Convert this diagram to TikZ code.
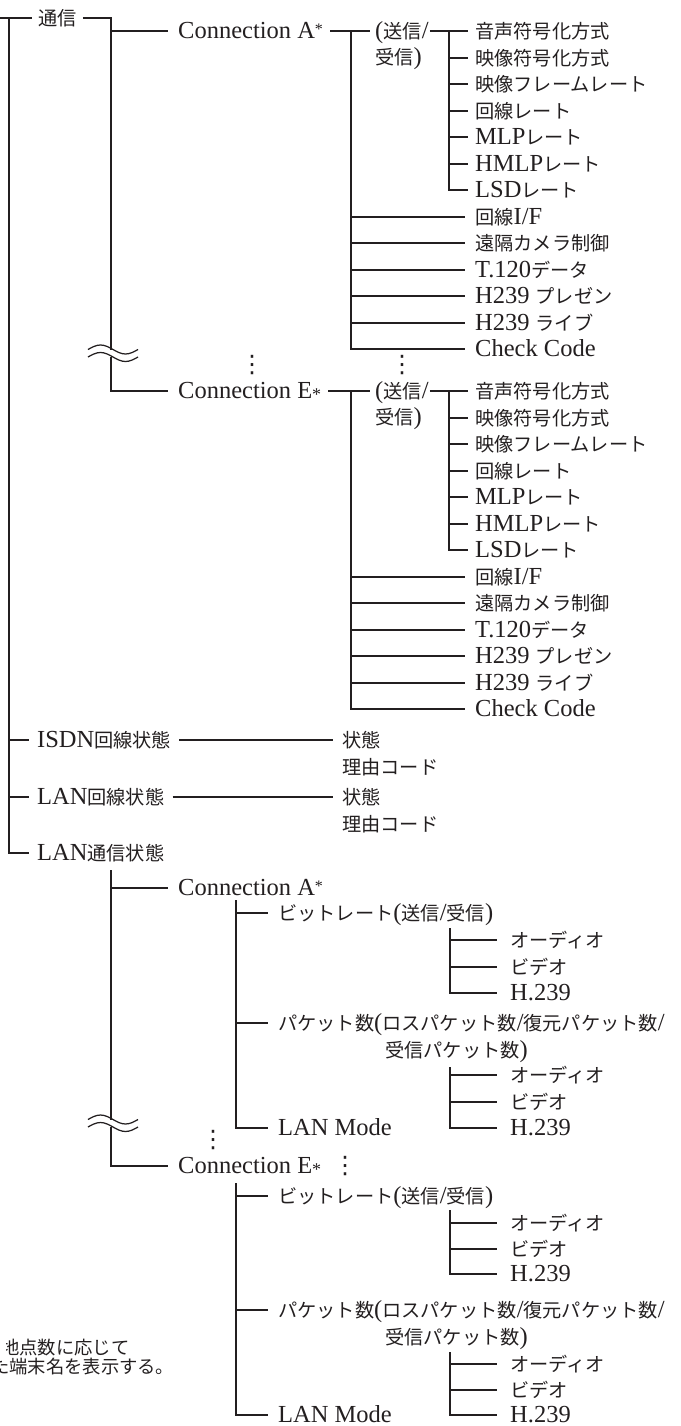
\documentclass[tikz,border=0pt]{standalone}
\usepackage{fontspec}
\setmainfont{Liberation Serif}
\newfontfamily\jpfont{Noto Sans CJK JP}
\newfontfamily\djv{DejaVu Sans}
\newcommand\J[1]{{\jpfont\fontsize{19.2}{22}\selectfont #1}}
\newcommand\vdts{{\djv\fontsize{24}{24}\selectfont ⋮}}
\definecolor{ink}{HTML}{231F20}
\newcommand\astA{\raisebox{4pt}{\fontsize{16}{16}\selectfont *}}
\newcommand\astE{\raisebox{-2pt}{\fontsize{18}{18}\selectfont *}}

\newcommand\commblock[3]{%
\begin{scope}[yshift=-#1pt]
\node[lbl] (#2c) at (178,31) {#3};
\node[lbl] (#2s) at (375,31) {(\J{送信}/};
\node[lbl] (#2s2) at (375,57) {\J{受信})};
\foreach \t [count=\k from 0] in {\J{音声符号化方式},\J{映像符号化方式},\J{映像フレームレート},\J{回線レート},MLP\J{レート},HMLP\J{レート},LSD\J{レート},\J{回線}I/F,\J{遠隔カメラ制御},T.120\J{データ},H239 \J{プレゼン},H239 \J{ライブ},Check Code}{
  \node[lbl] (#2i\k) at (475,{round(31+26.5*\k)}) {\t};
}
\coordinate (#2v) at (351,31);
\coordinate (#2u) at (449,31);
\end{scope}
\draw[ln] ([xshift=7pt]#2c.east) -- ([xshift=-5pt]#2s.west);
\draw[ln] (#2v) |- ([xshift=-10pt]#2i12.west);
\foreach \k in {7,...,11} \draw[ln] (#2i\k.west -| #2v) -- ([xshift=-10pt]#2i\k.west);
\draw[ln] ([xshift=1pt]#2s.east) -- ([xshift=-7pt]#2i0.west);
\draw[ln] (#2u) |- ([xshift=-7pt]#2i6.west);
\foreach \k in {1,...,5} \draw[ln] (#2i\k.west -| #2u) -- ([xshift=-7pt]#2i\k.west);
}

\newcommand\subgrp[5]{%
\coordinate (#1t) at (450,#2);
\node[lbl] (#1a) at (510,#3) {\J{オーディオ}};
\node[lbl] (#1b) at (510,#4) {\J{ビデオ}};
\node[lbl] (#1c) at (510,#5) {H.239};
\draw[ln] (#1t) |- ([xshift=-13pt]#1c.west);
\draw[ln] (#1a.west -| #1t) -- ([xshift=-13pt]#1a.west);
\draw[ln] (#1b.west -| #1t) -- ([xshift=-13pt]#1b.west);
}

\begin{document}
\begin{tikzpicture}[x=1pt,y=-1pt,
  lbl/.style={anchor=west,inner sep=0pt,text height=16pt,text depth=1pt,font=\fontsize{24.5}{27}\selectfont,text=ink},
  fnote/.style={anchor=west,inner sep=0pt,text height=14pt,text depth=1pt,font=\jpfont\fontsize{18.3}{19}\selectfont,text=ink},
  ln/.style={draw=ink,line width=1.25pt},
  dts/.style={inner sep=0pt,text=ink}]
\useasboundingbox (0,0) rectangle (680,1426);
\clip (0,0) rectangle (680,1426);

% top level
\node[lbl] (tsu) at (38,18) {\J{通信}};
\coordinate (in0) at (0,18);
\coordinate (T) at (9,18);
\node[lbl] (isdn) at (37,740) {ISDN\J{回線状態}};
\node[lbl] (isdnS) at (342,740) {\J{状態}};
\node[lbl] (isdnR) at (342,767) {\J{理由コード}};
\node[lbl] (lanl) at (37,797) {LAN\J{回線状態}};
\node[lbl] (lanlS) at (342,797) {\J{状態}};
\node[lbl] (lanlR) at (342,824) {\J{理由コード}};
\node[lbl] (lanc) at (37,853) {LAN\J{通信状態}};

\draw[ln] (in0) -- ([xshift=-6pt]tsu.west);
\draw[ln] (T) |- ([xshift=-8pt]lanc.west);
\draw[ln] (isdn.west -| T) -- ([xshift=-8pt]isdn.west);
\draw[ln] (lanl.west -| T) -- ([xshift=-8pt]lanl.west);
\draw[ln] ([xshift=8pt]isdn.east) -- ([xshift=-9pt]isdnS.west);
\draw[ln] ([xshift=8pt]lanl.east) -- ([xshift=-9pt]lanlS.west);

% communication branch
\coordinate (w1t) at (111,349.5);
\coordinate (w1b) at (111,357);
\commblock{0}{cA}{Connection A\astA}
\commblock{360}{cE}{Connection E\astE}
\draw[ln] ([xshift=6pt]tsu.east) -| (w1t);
\draw[ln] (cAc.west -| w1t) -- ([xshift=-10pt]cAc.west);
\draw[ln] (w1b) |- ([xshift=-10pt]cEc.west);
\draw[ln] (88,349.5) sin (100.5,345) cos (113,349.5) sin (125.5,354) cos (138,349.5);
\draw[ln] (88,357) sin (100.5,352.5) cos (113,357) sin (125.5,361.5) cos (138,357);
\node[dts] (dA) at (252,365) {\vdts};
\node[dts] (dB) at (402,365) {\vdts};

% LAN communication status
\coordinate (lt) at (111,870);
\coordinate (w2t) at (111,1119.5);
\coordinate (w2b) at (111,1127);
\node[lbl] (lAc) at (178,888) {Connection A\astA};
\node[lbl] (lEc) at (178,1166) {Connection E\astE};
\draw[ln] (lt) -- (w2t);
\draw[ln] (w2b) |- ([xshift=-10pt]lEc.west);
\draw[ln] (lAc.west -| lt) -- ([xshift=-10pt]lAc.west);
\draw[ln] (88,1119.5) sin (100.5,1115) cos (113,1119.5) sin (125.5,1124) cos (138,1119.5);
\draw[ln] (88,1127) sin (100.5,1122.5) cos (113,1127) sin (125.5,1131.5) cos (138,1127);
\node[dts] (dC) at (213,1140) {\vdts};
\node[dts] (dD) at (345,1166) {\vdts};

% LAN A
\coordinate (lAv) at (236,900);
\node[lbl] (lAb) at (278,913) {\J{ビットレート}(\J{送信}/\J{受信})};
\node[lbl] (lAp) at (278,1023) {\J{パケット数}(\J{ロスパケット数}/\J{復元パケット数}/};
\node[lbl] (lAp2) at (385,1050) {\J{受信パケット数})};
\node[lbl] (lAm) at (278,1128) {LAN Mode};
\draw[ln] (lAv) |- ([xshift=-10pt]lAm.west);
\draw[ln] (lAb.west -| lAv) -- ([xshift=-10pt]lAb.west);
\draw[ln] (lAp.west -| lAv) -- ([xshift=-10pt]lAp.west);
\subgrp{lAx}{928}{940}{967}{993}
\subgrp{lAy}{1067}{1075}{1102}{1128}

% LAN E
\coordinate (lEv) at (236,1183);
\node[lbl] (lEb) at (278,1196) {\J{ビットレート}(\J{送信}/\J{受信})};
\node[lbl] (lEp) at (278,1310) {\J{パケット数}(\J{ロスパケット数}/\J{復元パケット数}/};
\node[lbl] (lEp2) at (385,1337) {\J{受信パケット数})};
\node[lbl] (lEm) at (278,1415) {LAN Mode};
\draw[ln] (lEv) |- ([xshift=-10pt]lEm.west);
\draw[ln] (lEb.west -| lEv) -- ([xshift=-10pt]lEb.west);
\draw[ln] (lEp.west -| lEv) -- ([xshift=-10pt]lEp.west);
\subgrp{lEx}{1210}{1223}{1249}{1274}
\subgrp{lEy}{1352}{1364}{1390}{1415}

% footnote (cut at left edge, as in the reference)
\begin{scope}
\clip (6,1335) rectangle (200,1360);
\node[fnote] (fn1) at (1,1348) {地点数に応じて};
\end{scope}
\node[fnote] (fn2) at (-9,1367) {た端末名を表示する。};
\end{tikzpicture}
\end{document}
